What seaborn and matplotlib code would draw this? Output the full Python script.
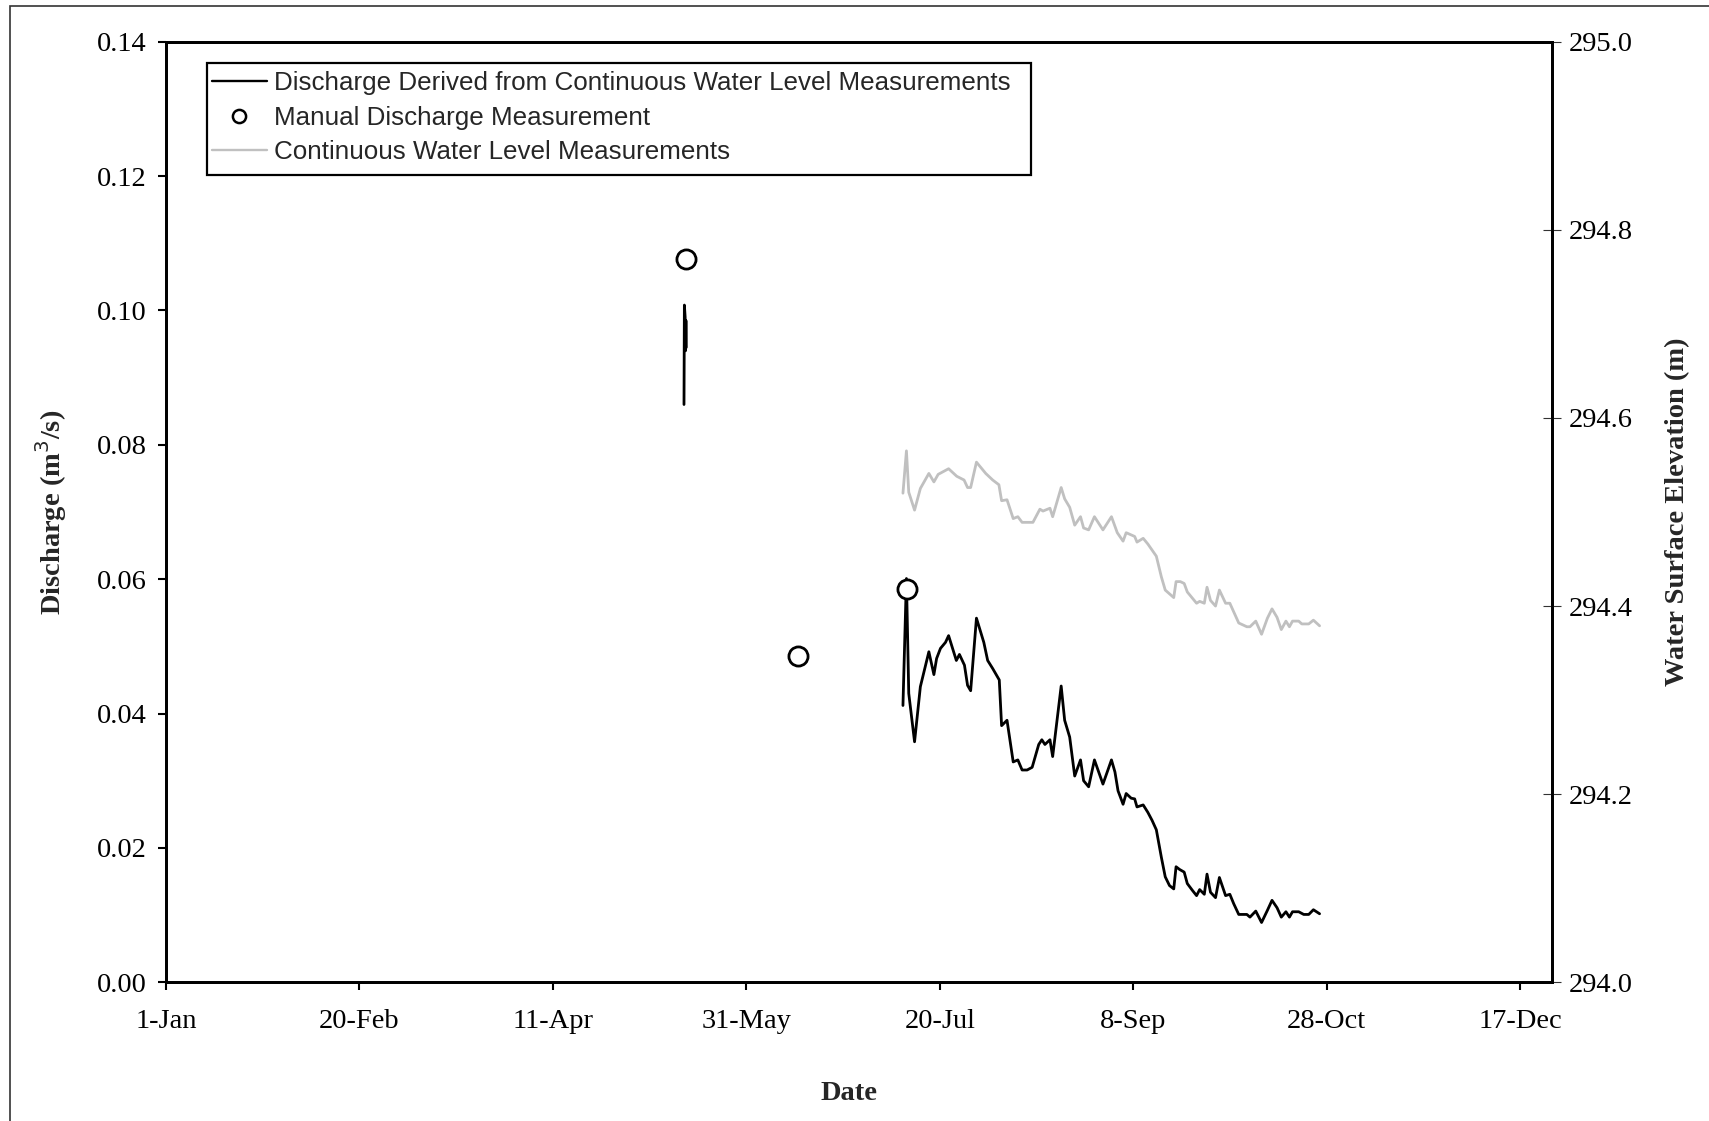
import matplotlib
matplotlib.use("Agg")
import matplotlib.pyplot as plt
from matplotlib.lines import Line2D
from matplotlib.patches import Rectangle
import seaborn as sns
import numpy as np

# day of year (0 = 1-Jan)
early_days = [133.9, 134.0, 134.2, 134.3, 134.4, 134.5]
early_q = [0.0860, 0.1008, 0.0990, 0.0940, 0.0985, 0.0945]

q_days = [190.5, 191.4, 192.0, 193.5, 195.0, 197.2, 198.5, 199.2, 200.2, 201.5,
          202.3, 204.3, 205.1, 206.4, 207.2, 208.0, 209.5, 211.4, 212.4, 213.7,
          215.4, 216.0, 217.4, 219.0, 220.2, 221.3, 222.6, 223.9, 225.6, 226.4,
          227.2, 228.5, 229.2, 231.4, 232.3, 233.6, 234.9, 236.4, 237.2, 238.5,
          240.0, 242.2, 244.4, 245.3, 246.1, 247.4, 248.2, 249.5, 250.4, 251.0,
          252.6, 253.8, 254.9, 256.0, 257.3, 258.3, 259.4, 260.5, 261.1, 262.0,
          263.2, 264.0, 265.3, 266.4, 267.2, 268.4, 269.1, 270.0, 271.3, 272.3,
          273.9, 275.0, 276.0, 277.3, 279.4, 280.2, 281.7, 283.2, 284.7, 285.9,
          287.2, 288.3, 289.5, 290.4, 291.2, 292.8, 294.1, 295.4, 296.6, 298.2]
q_vals = [0.0412, 0.0601, 0.0430, 0.0358, 0.0440, 0.0492, 0.0458, 0.0482, 0.0497, 0.0506,
          0.0516, 0.0479, 0.0488, 0.0472, 0.0442, 0.0434, 0.0542, 0.0506, 0.0479, 0.0467,
          0.0450, 0.0382, 0.0390, 0.0328, 0.0331, 0.0316, 0.0316, 0.0320, 0.0354, 0.0361,
          0.0354, 0.0361, 0.0336, 0.0441, 0.0390, 0.0365, 0.0307, 0.0331, 0.0300, 0.0291,
          0.0331, 0.0295, 0.0331, 0.0313, 0.0285, 0.0265, 0.0281, 0.0274, 0.0273, 0.0261,
          0.0264, 0.0253, 0.0241, 0.0227, 0.0186, 0.0157, 0.0144, 0.0139, 0.0172, 0.0168,
          0.0164, 0.0147, 0.0137, 0.0129, 0.0138, 0.0131, 0.0161, 0.0134, 0.0126, 0.0156,
          0.0129, 0.0131, 0.0117, 0.0101, 0.0101, 0.0097, 0.0106, 0.0089, 0.0107, 0.0122,
          0.0111, 0.0097, 0.0105, 0.0097, 0.0105, 0.0105, 0.0101, 0.0101, 0.0108, 0.0102]

wl_days = [190.5, 191.4, 192.0, 193.5, 195.0, 197.2, 198.5, 199.6, 202.3, 204.4,
           206.3, 207.2, 208.0, 209.5, 211.9, 213.7, 215.3, 216.0, 217.4, 219.0,
           220.2, 221.3, 224.1, 225.9, 226.7, 228.5, 229.2, 231.4, 232.3, 233.6,
           234.9, 236.4, 237.2, 238.5, 240.0, 242.2, 244.4, 245.9, 247.4, 248.2,
           250.4, 251.0, 252.6, 253.8, 256.0, 257.3, 258.3, 260.5, 261.1, 262.2,
           263.2, 264.0, 266.4, 267.2, 268.4, 269.1, 270.0, 271.3, 272.3, 273.9,
           275.0, 277.3, 279.4, 280.2, 281.7, 283.2, 284.7, 285.9, 287.2, 288.3,
           289.5, 290.4, 291.2, 292.8, 293.6, 295.4, 296.6, 298.2]
wl_vals = [294.520, 294.565, 294.521, 294.502, 294.525, 294.541, 294.532, 294.540, 294.546, 294.538,
           294.534, 294.526, 294.526, 294.553, 294.541, 294.534, 294.529, 294.512, 294.513, 294.493,
           294.495, 294.489, 294.489, 294.503, 294.501, 294.504, 294.495, 294.526, 294.514, 294.505,
           294.486, 294.495, 294.483, 294.481, 294.495, 294.481, 294.495, 294.478, 294.469, 294.478,
           294.474, 294.468, 294.472, 294.466, 294.453, 294.431, 294.417, 294.409, 294.426, 294.426,
           294.424, 294.415, 294.403, 294.405, 294.403, 294.420, 294.406, 294.400, 294.417, 294.403,
           294.403, 294.382, 294.378, 294.378, 294.384, 294.370, 294.387, 294.397, 294.388, 294.375,
           294.384, 294.378, 294.384, 294.384, 294.381, 294.381, 294.385, 294.379]

manual_days = [134.4, 163.3, 191.5]
manual_q = [0.1076, 0.0485, 0.0586]

tick_days = [0, 50, 100, 150, 200, 250, 300, 350]
tick_labels = ['1-Jan', '20-Feb', '11-Apr', '31-May', '20-Jul', '8-Sep', '28-Oct', '17-Dec']

sns.set_theme(style="white")
plt.rcParams['font.family'] = ['Liberation Serif', 'DejaVu Serif']

W, H = 1709, 1121
AX_L, AX_R, AX_T, AX_B = 166, 1551.7, 41.7, 982.3
fig = plt.figure(figsize=(W / 100, H / 100), dpi=100)
ax = fig.add_axes([AX_L / W, 1 - AX_B / H, (AX_R - AX_L) / W, (AX_B - AX_T) / H])
ax2 = ax.twinx()

# discharge lines
sns.lineplot(x=early_days, y=early_q, ax=ax, color='black', linewidth=2.0,
             estimator=None, sort=False, legend=False)
sns.lineplot(x=q_days, y=q_vals, ax=ax, color='black', linewidth=2.0,
             estimator=None, sort=False, legend=False)
sns.scatterplot(x=manual_days, y=manual_q, ax=ax, s=190, facecolor='white',
                edgecolor='black', linewidth=2.0, zorder=5, legend=False)

# water level on right axis
sns.lineplot(x=wl_days, y=wl_vals, ax=ax2, color='#C0C0C0', linewidth=2.0,
             estimator=None, sort=False, legend=False)

ax.set_xlim(0, 358.2)
ax.set_ylim(0, 0.14)
ax2.set_ylim(294.0, 295.0)

ax.set_xticks(tick_days)
ax.set_xticklabels(tick_labels)
ax.set_yticks(np.arange(0, 0.1401, 0.02))
ax.set_yticklabels([f"{v:.2f}" for v in np.arange(0, 0.1401, 0.02)])
ax2.set_yticks(np.arange(294.0, 295.01, 0.2))
ax2.set_yticklabels([f"{v:.1f}" for v in np.arange(294.0, 295.01, 0.2)])

ax.tick_params(axis='x', direction='out', length=6, width=1.5, pad=13.5,
               labelsize=20.5, colors='black', bottom=True)
ax.tick_params(axis='y', direction='out', length=6, width=1.5, pad=8,
               labelsize=20.5, colors='black', left=True)
ax2.tick_params(axis='y', direction='inout', length=13, width=0.8, pad=6,
                labelsize=20.5, colors='black', right=True, color='#333333')

for a in (ax, ax2):
    for s in a.spines.values():
        s.set_visible(True)
        s.set_color('black')
        s.set_linewidth(2.0)

ax_w, ax_h = AX_R - AX_L, AX_B - AX_T
ax.set_xlabel('Date', fontsize=20.5, fontweight='bold')
ax.set_ylabel('Discharge (m$^3$/s)', fontsize=20.5, fontweight='bold')
ax2.set_ylabel('Water Surface Elevation (m)', fontsize=20.5, fontweight='bold')
ax.xaxis.set_label_coords((849 - AX_L) / ax_w, (AX_B - 1093) / ax_h)
ax.xaxis.label.set_va('center')
ax.yaxis.set_label_coords((51 - AX_L) / ax_w, 0.5)
ax.yaxis.label.set_va('center')
ax2.yaxis.set_label_coords((1678 - AX_L) / ax_w, 0.5)
ax2.yaxis.label.set_va('center')

# legend box
handles = [
    Line2D([], [], color='black', linewidth=1.7),
    Line2D([], [], color='black', marker='o', markersize=9.5, markerfacecolor='white',
           markeredgewidth=1.8, linestyle='none'),
    Line2D([], [], color='#C0C0C0', linewidth=1.7),
]
labels = ['Discharge Derived from Continuous Water Level Measurements',
          'Manual Discharge Measurement',
          'Continuous Water Level Measurements']
leg = ax2.legend(handles, labels, loc='upper left',
                 bbox_to_anchor=(207 / W, 1 - 66 / H), bbox_transform=fig.transFigure,
                 frameon=False, prop={'family': 'Liberation Sans', 'size': 18.7},
                 handlelength=2.1, handletextpad=0.27, labelspacing=0.41,
                 borderpad=0.2, borderaxespad=0)
box = Rectangle(((207 - AX_L) / ax_w, (AX_B - 175) / ax_h), (1031 - 207) / ax_w,
                (175 - 63) / ax_h, transform=ax.transAxes, fill=False,
                edgecolor='black', linewidth=1.6, zorder=10)
ax2.add_patch(box)

# outer frame of the chart area
fig.patches.append(Rectangle((10 / W, -0.05), 1.2, 1.05 - 6 / H, transform=fig.transFigure,
                             fill=False, edgecolor='#333333', linewidth=1.2))

fig.savefig('out.png', dpi=100)
